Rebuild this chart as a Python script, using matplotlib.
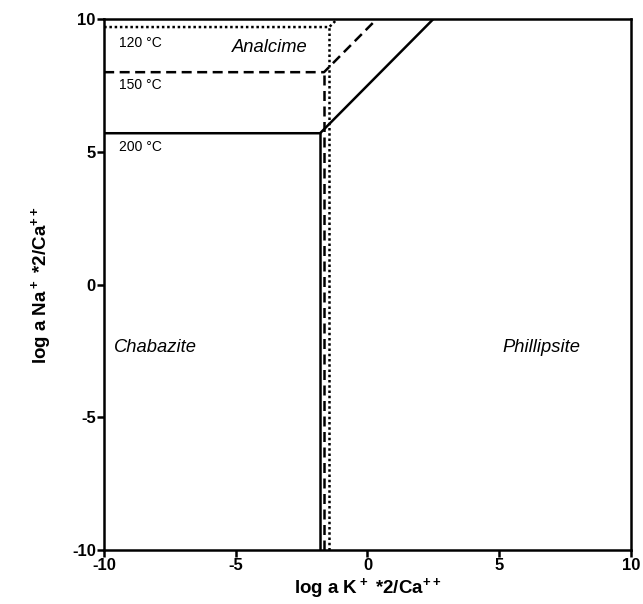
import numpy as np
import matplotlib
matplotlib.use("Agg")
import matplotlib.pyplot as plt

plt.rcParams['font.family'] = ['Liberation Sans', 'DejaVu Sans']
plt.rcParams['mathtext.fontset'] = 'custom'
plt.rcParams['mathtext.bf'] = 'Liberation Sans:bold'
plt.rcParams['mathtext.rm'] = 'Liberation Sans:bold'
plt.rcParams['mathtext.default'] = 'bf'
plt.rcParams['axes.unicode_minus'] = False

# phase boundaries per temperature: vertical x, horizontal y, diagonal end x (at y=10)
temps = ['120 °C', '150 °C', '200 °C']
x_vert = [-1.45, -1.65, -1.8]
y_horiz = [9.7, 8.0, 5.7]
x_diag_end = [-1.15, 0.35, 2.5]
dash_patterns = [(1, 1.1), (4, 2.2), None]
label_y = [9.1, 7.5, 5.2]

minerals = ['Analcime', 'Chabazite', 'Phillipsite']
mineral_x = [-3.7, -8.05, 6.62]
mineral_y = [8.93, -2.38, -2.38]

fig = plt.figure(figsize=(6.43, 6.04), dpi=100)
ax = fig.add_axes([0.162, 0.0894, 0.819, 0.879])

for i in range(len(temps)):
    xs = [-10, x_vert[i], x_diag_end[i]]
    ys = [y_horiz[i], y_horiz[i], 10]
    l1, = ax.plot(xs, ys, color='black', lw=1.8)
    l2, = ax.plot([x_vert[i], x_vert[i]], [-10, y_horiz[i]], color='black', lw=1.8)
    if dash_patterns[i] is not None:
        l1.set_dashes(dash_patterns[i])
        l2.set_dashes(dash_patterns[i])
    ax.text(-9.45, label_y[i], temps[i], fontsize=10, va='center', ha='left')

for name, mx, my in zip(minerals, mineral_x, mineral_y):
    ax.text(mx, my, name, fontsize=13.2, style='italic', ha='center', va='center')

ax.set_xlim(-10, 10)
ax.set_ylim(-10, 10)
ax.set_xticks([-10, -5, 0, 5, 10])
ax.set_yticks([-10, -5, 0, 5, 10])
for lab in ax.get_xticklabels() + ax.get_yticklabels():
    lab.set_fontweight('bold')
    lab.set_fontsize(12)
ax.tick_params(direction='out', length=5, width=1.8, pad=1)
for s in ax.spines.values():
    s.set_linewidth(1.8)

ax.set_xlabel(r'log a K$^+$ *2/Ca$^{++}$', fontsize=13.5, fontweight='bold', labelpad=2)
ax.set_ylabel(r'log a Na$^+$ *2/Ca$^{++}$', fontsize=13.5, fontweight='bold', labelpad=14)

fig.savefig('out.png', dpi=100)
